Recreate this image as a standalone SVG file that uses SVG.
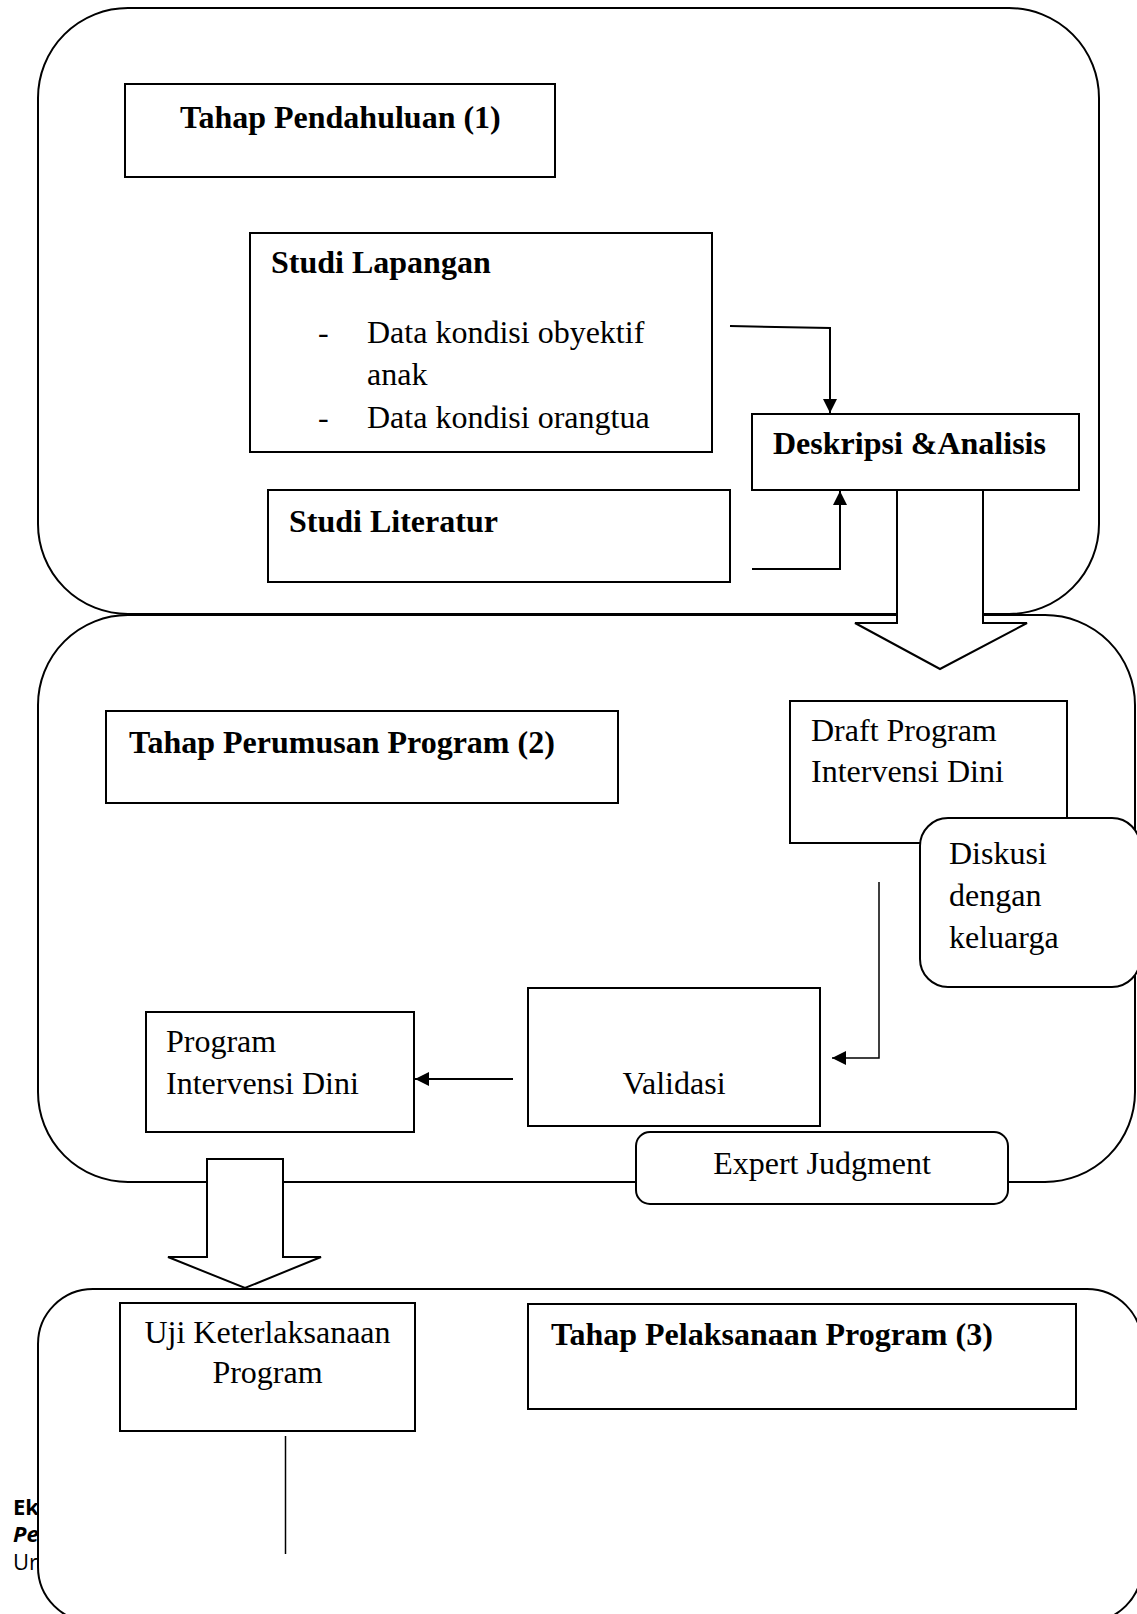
<svg xmlns="http://www.w3.org/2000/svg" width="1137" height="1614" viewBox="0 0 1137 1614">
<style>
  .stage { fill: #fff; stroke: #000; stroke-width: 2; }
  .box { fill: #fff; stroke: #000; stroke-width: 2; }
  .t { font-family: "Liberation Serif", "Times New Roman", serif; font-size: 32px; fill: #000; }
  .b { font-weight: bold; }
  .mid { text-anchor: middle; }
  .foot { font-family: "Open Sans", "DejaVu Sans", sans-serif; font-size: 22px; fill: #000; }
  .conn { fill: none; stroke: #000; stroke-width: 2; }
  .thin { fill: none; stroke: #000; stroke-width: 1.5; }
  .big { fill: #fff; stroke: #000; stroke-width: 2; stroke-linejoin: miter; }
</style>
<defs>
  <marker id="ah" markerUnits="userSpaceOnUse" markerWidth="14" markerHeight="14" viewBox="0 0 14 14" refX="14" refY="7" orient="auto">
    <path d="M0,0 L14,7 L0,14 z" fill="#000"/>
  </marker>
</defs>
<rect width="1137" height="1614" fill="#fff"/>

<g id="footer">
  <text class="foot" x="13" y="1515" font-weight="bold">Ek</text>
  <text class="foot" x="13" y="1542" font-weight="bold" font-style="italic">Pe</text>
  <text class="foot" x="13" y="1570">Ur</text>
</g>

<g id="stage1">
  <rect class="stage" x="38" y="8" width="1061" height="606" rx="90" ry="90"/>
</g>
<g id="stage2">
  <rect class="stage" x="38" y="615" width="1097" height="567" rx="90" ry="90"/>
</g>
<g id="stage3">
  <rect class="stage" x="38" y="1289" width="1104" height="333" rx="55" ry="55"/>
</g>

<g id="tahap1">
  <rect class="box" x="125" y="84" width="430" height="93"/>
  <text class="t b" x="180" y="128">Tahap Pendahuluan (1)</text>
</g>
<g id="studi-lapangan">
  <rect class="box" x="250" y="233" width="462" height="219"/>
  <text class="t b" x="271" y="273">Studi Lapangan</text>
  <text class="t" x="318" y="343">-</text>
  <text class="t" x="367" y="343">Data kondisi obyektif</text>
  <text class="t" x="367" y="385">anak</text>
  <text class="t" x="318" y="428">-</text>
  <text class="t" x="367" y="428">Data kondisi orangtua</text>
</g>
<g id="deskripsi">
  <rect class="box" x="752" y="414" width="327" height="76"/>
  <text class="t b" x="773" y="454">Deskripsi &amp;Analisis</text>
</g>
<g id="studi-literatur">
  <rect class="box" x="268" y="490" width="462" height="92"/>
  <text class="t b" x="289" y="532">Studi Literatur</text>
</g>

<g id="tahap2">
  <rect class="box" x="106" y="711" width="512" height="92"/>
  <text class="t b" x="129" y="753">Tahap Perumusan Program (2)</text>
</g>
<g id="draft">
  <rect class="box" x="790" y="701" width="277" height="142"/>
  <text class="t" x="811" y="741">Draft Program</text>
  <text class="t" x="811" y="782">Intervensi Dini</text>
</g>
<g id="diskusi">
  <rect class="box" x="920" y="818" width="220" height="169" rx="28" ry="28"/>
  <text class="t" x="949" y="864">Diskusi</text>
  <text class="t" x="949" y="906">dengan</text>
  <text class="t" x="949" y="948">keluarga</text>
</g>
<g id="validasi">
  <rect class="box" x="528" y="988" width="292" height="138"/>
  <text class="t mid" x="674" y="1094">Validasi</text>
</g>
<g id="program">
  <rect class="box" x="146" y="1012" width="268" height="120"/>
  <text class="t" x="166" y="1052">Program</text>
  <text class="t" x="166" y="1094">Intervensi Dini</text>
</g>
<g id="expert">
  <rect class="box" x="636" y="1132" width="372" height="72" rx="14" ry="14"/>
  <text class="t mid" x="822" y="1174">Expert Judgment</text>
</g>

<g id="uji">
  <rect class="box" x="120" y="1303" width="295" height="128"/>
  <text class="t mid" x="267.5" y="1343">Uji Keterlaksanaan</text>
  <text class="t mid" x="267.5" y="1383">Program</text>
</g>
<g id="tahap3">
  <rect class="box" x="528" y="1304" width="548" height="105"/>
  <text class="t b" x="551" y="1345">Tahap Pelaksanaan Program (3)</text>
</g>

<g id="connectors">
  <path class="conn" d="M730,326 L830,328 L830,413" marker-end="url(#ah)"/>
  <path class="conn" d="M752,569 L840,569 L840,491" marker-end="url(#ah)"/>
  <path class="thin" d="M879,882 L879,1058 L832,1058" marker-end="url(#ah)"/>
  <path class="conn" d="M513,1079 L415,1079" marker-end="url(#ah)"/>
  <path class="thin" d="M285.5,1436 L285.5,1554"/>
  <polygon class="big" points="897,490 983,490 983,623 1027,623 940,669 855,623 897,623"/>
  <polygon class="big" points="207,1159 283,1159 283,1257 321,1257 245,1288 168,1257 207,1257"/>
</g>
</svg>
